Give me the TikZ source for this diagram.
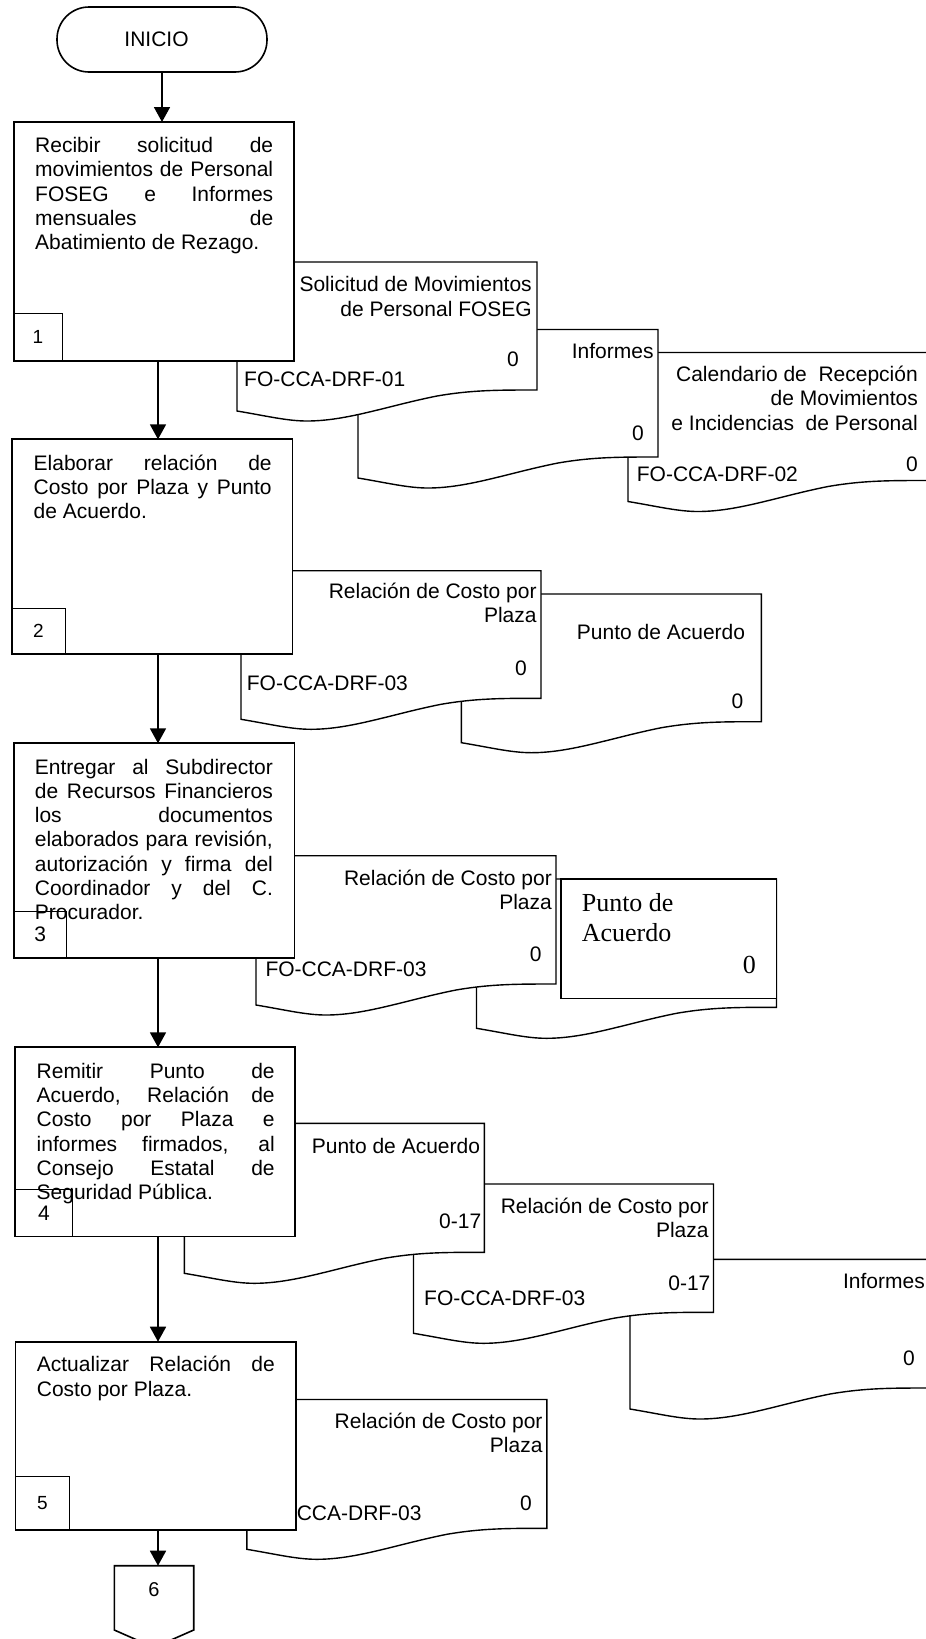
\documentclass[tikz,border=0pt]{standalone}
\usepackage{fontspec}
\setmainfont{Liberation Sans}
\newfontfamily\serifface{Liberation Serif}
\usetikzlibrary{arrows.meta,calc}

\newcommand\bodyfont{\fontsize{21}{24.3}\selectfont}
% one justified line of a step description
\newcommand\jline[1]{\makebox[238pt][s]{#1}\\}

% document symbol with wavy bottom: left x, top y, width, bottom-left y
\newcommand\docsymbol[4]{%
  \begin{scope}[shift={(#1,#4)}]
    \filldraw[docline] (0,#2-#4) -- (0,0)
      .. controls (30,5) and (50,10) .. (70,10)
      .. controls (110,10) and (150,-5) .. (200,-15)
      .. controls (235,-21) and (260,-21) .. (#3,-21)
      -- (#3,#2-#4) -- cycle;
  \end{scope}}

\tikzset{
  stepbox/.style={draw, line width=1.8pt, fill=white, inner sep=0, outer sep=0, anchor=north west},
  numbox/.style={draw, line width=1pt, inner sep=0, outer sep=0, anchor=south west},
  numlbl/.style={inner sep=0, font=\fontsize{19}{22}\selectfont},
  docline/.style={line width=1.4pt, draw=black, fill=white},
  lbl/.style={inner sep=0, font=\bodyfont},
  term/.style={draw, line width=1.6pt, rounded corners=32pt, inner sep=0, outer sep=0,
    minimum width=210pt, minimum height=65pt},
  arr/.style={line width=1.8pt, -{Triangle[length=15pt,width=16pt]}},
}

\begin{document}
\begin{tikzpicture}[x=1pt,y=-1pt]
\useasboundingbox (0,0) rectangle (926,1639);
\fill[white] (0,0) rectangle (926,1639);
\coordinate (spine) at (158,0);

% start terminal
\node[term] (ini) at (162,39.5) {};
\node[lbl] (initxt) at (156.5,39.5) {INICIO};

% ---------- step 1 ----------
\docsymbol{628}{352.5}{300}{501.5}
\node[lbl, anchor=base east] (d3a) at (918,381.5) {\begin{tabular}[t]{@{}r@{}}Calendario de\ \ Recepción\\de Movimientos\\e Incidencias\ \ de Personal\end{tabular}};
\node[lbl, anchor=base east] (d3b) at (918,471.7) {0};
\node[lbl, anchor=base west] (d3c) at (636.7,481.7) {FO-CCA-DRF-02};

\docsymbol{358}{329.5}{300}{478}
\node[lbl, anchor=base east] (d2a) at (653.7,358) {Informes};
\node[lbl, anchor=base east] (d2b) at (644,440) {0};

\docsymbol{237}{262}{300}{411}
\node[lbl, anchor=base east] (d1a) at (532,291.7) {\begin{tabular}[t]{@{}r@{}}Solicitud de Movimientos\\de Personal FOSEG\end{tabular}};
\node[lbl, anchor=base east] (d1b) at (519,366.7) {0};
\node[lbl, anchor=base west] (d1c) at (244,386.7) {FO-CCA-DRF-01};

\node[stepbox, minimum width=280pt, minimum height=239pt] (s1) at (14,122) {};
\node[numbox, minimum width=48pt, minimum height=48pt] (n1) at (s1.south west) {};
\node[numlbl] (n1t) at (n1.center) {1};
\node[lbl, anchor=base west] (s1t) at (35,152.5) {\parbox[t]{238pt}{%
  \jline{Recibir solicitud de}\jline{movimientos de Personal}\jline{FOSEG e Informes}%
  \jline{mensuales de}Abatimiento de Rezago.}};

% ---------- step 2 ----------
\docsymbol{461.4}{594}{300}{742.7}
\node[lbl, anchor=base east] (e2a) at (745.3,639.3) {Punto de Acuerdo};
\node[lbl, anchor=base east] (e2b) at (743.4,708.3) {0};

\docsymbol{241}{570.7}{300}{719.3}
\node[lbl, anchor=base east] (e1a) at (536.8,598.3) {\begin{tabular}[t]{@{}r@{}}Relación de Costo por\\Plaza\end{tabular}};
\node[lbl, anchor=base east] (e1b) at (527,675) {0};
\node[lbl, anchor=base west] (e1c) at (246.7,690.7) {FO-CCA-DRF-03};

\node[stepbox, minimum width=280.5pt, minimum height=214.7pt] (s2) at (12,439.3) {};
\node[numbox, minimum width=53pt, minimum height=45.7pt] (n2) at (s2.south west) {};
\node[numlbl] (n2t) at (n2.center) {2};
\node[lbl, anchor=base west] (s2t) at (33.5,470) {\parbox[t]{238pt}{%
  \jline{Elaborar relación de}\jline{Costo por Plaza y Punto}de Acuerdo.}};

% ---------- step 3 ----------
\docsymbol{476.5}{879}{300}{1028.3}
\node[draw, line width=1.4pt, fill=white, inner sep=0, outer sep=0, anchor=north west,
  minimum width=215.5pt, minimum height=119.3pt] (f2r) at (561,879) {};
\node[inner sep=0, anchor=base west, font=\serifface\fontsize{26}{30}\selectfont] (f2a) at (581.6,911.7) {Punto de};
\node[inner sep=0, anchor=base west, font=\serifface\fontsize{26}{30}\selectfont] (f2b) at (581.6,941.7) {Acuerdo};
\node[inner sep=0, anchor=base east, font=\serifface\fontsize{26}{30}\selectfont] (f2c) at (756,973.3) {0};

\docsymbol{256}{855.7}{300}{1005}
\node[lbl, anchor=base east] (f1a) at (552,885) {\begin{tabular}[t]{@{}r@{}}Relación de Costo por\\Plaza\end{tabular}};
\node[lbl, anchor=base east] (f1b) at (541.8,961.7) {0};
\node[lbl, anchor=base west] (f1c) at (265.3,976.7) {FO-CCA-DRF-03};

\node[stepbox, minimum width=280.4pt, minimum height=214.4pt] (s3) at (14,743.3) {};
\node[numbox, minimum width=52.3pt, minimum height=46pt] (n3) at (s3.south west) {};
\node[numlbl, font=\fontsize{21}{24}\selectfont] (n3t) at (n3.center) {3};
\node[lbl, anchor=base west] (s3t) at (34.7,774) {\parbox[t]{238pt}{%
  \jline{Entregar al Subdirector}\jline{de Recursos Financieros}\jline{los documentos}%
  \jline{elaborados para revisión,}\jline{autorización y firma del}%
  \jline{Coordinador y del C.}Procurador.}};

% ---------- step 4 ----------
\docsymbol{630}{1259.3}{300}{1409}
\node[lbl, anchor=base east] (g3a) at (925,1288.3) {Informes};
\node[lbl, anchor=base east] (g3b) at (915,1365) {0};

\docsymbol{413.5}{1184}{300}{1333.3}
\node[lbl, anchor=base east] (g2a) at (708.8,1213.3) {\begin{tabular}[t]{@{}r@{}}Relación de Costo por\\Plaza\end{tabular}};
\node[lbl, anchor=base east] (g2b) at (710.6,1290) {0-17};
\node[lbl, anchor=base west] (g2c) at (424,1305) {FO-CCA-DRF-03};

\docsymbol{184.3}{1123.3}{300}{1273.3}
\node[lbl, anchor=base east] (g1a) at (480.2,1153.3) {Punto de Acuerdo};
\node[lbl, anchor=base east] (g1b) at (481.4,1228.3) {0-17};

\node[stepbox, minimum width=280pt, minimum height=189.2pt] (s4) at (15,1047.3) {};
\node[numbox, minimum width=57.7pt, minimum height=47pt] (n4) at (s4.south west) {};
\node[numlbl, font=\fontsize{21}{24}\selectfont] (n4t) at (n4.center) {4};
\node[lbl, anchor=base west] (s4t) at (36.5,1078.3) {\parbox[t]{238pt}{%
  \jline{Remitir Punto de}\jline{Acuerdo, Relación de}\jline{Costo por Plaza e}%
  \jline{informes firmados, al}\jline{Consejo Estatal de}Seguridad Pública.}};

% ---------- step 5 ----------
\docsymbol{246.8}{1399.5}{300}{1549.3}
\node[lbl, anchor=base east] (h1a) at (542.7,1428.3) {\begin{tabular}[t]{@{}r@{}}Relación de Costo por\\Plaza\end{tabular}};
\node[lbl, anchor=base east] (h1b) at (532,1510) {0};
\node[lbl, anchor=base west] (h1c) at (260.4,1520) {FO-CCA-DRF-03};

\node[stepbox, minimum width=280.3pt, minimum height=188.3pt] (s5) at (15.5,1341.7) {};
\node[numbox, minimum width=53.8pt, minimum height=53.3pt] (n5) at (s5.south west) {};
\node[numlbl] (n5t) at (n5.center) {5};
\node[lbl, anchor=base west] (s5t) at (36.7,1371.7) {\parbox[t]{238pt}{%
  \jline{Actualizar Relación de}Costo por Plaza.}};

% off-page connector
\coordinate (p6) at (154,1565.7);
\draw[line width=1.6pt, fill=white] (p6) ++(-39.7,0) -- ++(79.4,0) -- ++(0,64.3)
  -- ++(-39.7,17.5) -- ++(-39.7,-17.5) -- cycle;
\node[lbl, font=\fontsize{20}{24}\selectfont] (p6t) at (154,1590) {6};

% flow connectors
\draw[arr] (ini.south) -- (ini.south |- s1.north);
\draw[arr] (s1.south -| spine) -- (s2.north -| spine);
\draw[arr] (s2.south -| spine) -- (s3.north -| spine);
\draw[arr] (s3.south -| spine) -- (s4.north -| spine);
\draw[arr] (s4.south -| spine) -- (s5.north -| spine);
\draw[arr] (s5.south -| spine) -- (p6 -| spine);
\end{tikzpicture}
\end{document}
